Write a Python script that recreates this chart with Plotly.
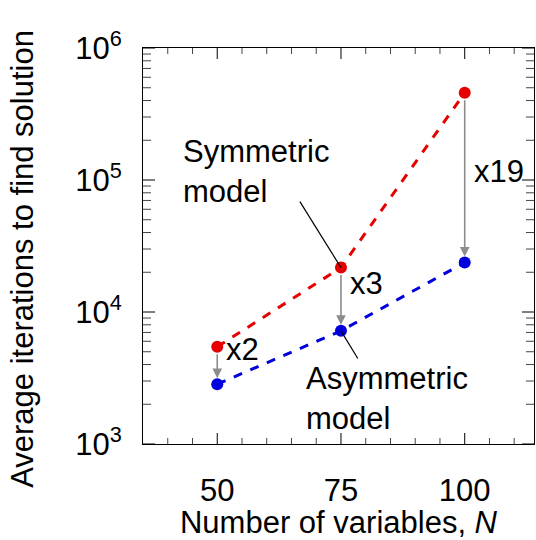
import math
import plotly.graph_objects as go

# Problem size (number of variables)
n_vars = [50, 75, 100]
# Average iterations needed to find a solution
symmetric_iters = [5450, 21700, 458000]
asymmetric_iters = [2840, 7200, 23700]
ratio_labels = ["x2", "x3", "x19"]

y_tickvals = [1e3, 1e4, 1e5, 1e6]
y_ticktext = ["10<sup>3</sup>", "10<sup>4</sup>", "10<sup>5</sup>", "10<sup>6</sup>"]
y_minor_vals = [k * 10 ** d for d in range(3, 6) for k in range(2, 10)]
x_tickvals = [50, 75, 100]
x_minor_vals = [v for v in range(40, 115, 5) if v not in x_tickvals]

FONT = "Liberation Sans, Arial, sans-serif"
FS = 31
RED = "#e60000"
BLUE = "#0000dd"
GREY = "#8c8c8c"

W, H = 536, 540
MARGIN = dict(l=143, r=2, t=48, b=96)
PLOT_W = W - MARGIN["l"] - MARGIN["r"]
PLOT_H = H - MARGIN["t"] - MARGIN["b"]

fig = go.Figure()

fig.add_trace(go.Scatter(
    x=n_vars, y=symmetric_iters, mode="lines+markers",
    line=dict(color=RED, width=3, dash="dash"),
    marker=dict(color=RED, size=12), showlegend=False))
fig.add_trace(go.Scatter(
    x=n_vars, y=asymmetric_iters, mode="lines+markers",
    line=dict(color=BLUE, width=3, dash="dash"),
    marker=dict(color=BLUE, size=12), showlegend=False))

# Leader lines from the 75-variable points to their model labels
fig.add_trace(go.Scatter(
    x=[n_vars[1], n_vars[1] - 8.3], y=[symmetric_iters[1], symmetric_iters[1] * 10 ** 0.5],
    mode="lines", line=dict(color="black", width=1.2), showlegend=False, hoverinfo="skip"))
fig.add_trace(go.Scatter(
    x=[n_vars[1], n_vars[1] + 3.4], y=[asymmetric_iters[1], asymmetric_iters[1] / 10 ** 0.21],
    mode="lines", line=dict(color="black", width=1.2), showlegend=False, hoverinfo="skip"))

annotations = []
# Grey arrows from each symmetric point down to its asymmetric counterpart
label_offsets = [-0.02, -0.12, -0.6]
for xv, ys, ya, lab, off in zip(n_vars, symmetric_iters, asymmetric_iters, ratio_labels, label_offsets):
    annotations.append(dict(
        x=xv, y=math.log10(ya), ax=xv, ay=math.log10(ys),
        xref="x", yref="y", axref="x", ayref="y",
        showarrow=True, arrowhead=2, arrowsize=1.2, arrowwidth=1.6,
        arrowcolor=GREY, standoff=6, startstandoff=6, text=""))
    annotations.append(dict(
        x=xv, y=math.log10(ys) + off, xref="x", yref="y", text=lab, showarrow=False,
        xanchor="left", xshift=7, font=dict(family=FONT, size=FS, color="black")))

annotations.append(dict(
    x=n_vars[1] - 32.3, y=math.log10(symmetric_iters[1]) + 0.73, xref="x", yref="y",
    text="Symmetric<br>model", showarrow=False, xanchor="left", yanchor="middle",
    align="left", font=dict(family=FONT, size=FS, color="black")))
annotations.append(dict(
    x=n_vars[1] - 7.5, y=math.log10(asymmetric_iters[1]) - 0.51, xref="x", yref="y",
    text="Asymmetric<br>model", showarrow=False, xanchor="left", yanchor="middle",
    align="left", font=dict(family=FONT, size=FS, color="black")))

# Y-axis title
annotations.append(dict(
    x=-0.31, y=0.467, xref="paper", yref="paper", text="Average iterations to find solution",
    textangle=-90, showarrow=False, xanchor="center", yanchor="middle",
    font=dict(family=FONT, size=FS, color="black")))

# Inward tick marks on all four sides of the frame
shapes = []
def x_tick(v, length, color):
    for base, sign in ((0, 1), (1, -1)):
        shapes.append(dict(type="line", xref="x", yref="y domain", x0=v, x1=v,
                           y0=base, y1=base + sign * length / PLOT_H,
                           line=dict(color=color, width=1)))

def y_tick(v, length, color):
    for base, sign in ((0, 1), (1, -1)):
        shapes.append(dict(type="line", xref="x domain", yref="y", y0=v, y1=v,
                           x0=base, x1=base + sign * length / PLOT_W,
                           line=dict(color=color, width=1)))

for v in x_tickvals:
    x_tick(v, 11, "black")
for v in x_minor_vals:
    x_tick(v, 6, "#444")
for v in y_tickvals:
    y_tick(v, 12, "black")
for v in y_minor_vals:
    y_tick(v, 8, "#444")

fig.update_layout(
    template="none",
    width=W, height=H,
    margin=MARGIN,
    paper_bgcolor="white", plot_bgcolor="white",
    font=dict(family=FONT, size=FS, color="black"),
    annotations=annotations,
    shapes=shapes,
    xaxis=dict(
        range=[35, 114], tickmode="array", tickvals=x_tickvals, ticks="",
        showline=True, linecolor="black", linewidth=1.2, mirror=True,
        showgrid=False, zeroline=False,
        ticklabelstandoff=19,
        tickfont=dict(size=FS),
        title=dict(text="Number of variables, <i>N</i>", standoff=9, font=dict(size=FS))),
    yaxis=dict(
        type="log", range=[3, 6], tickmode="array", tickvals=y_tickvals, ticktext=y_ticktext,
        ticks="", showline=True, linecolor="black", linewidth=1.2, mirror=True,
        showgrid=False, zeroline=False,
        ticklabelstandoff=14,
        tickfont=dict(size=FS)),
)

fig.write_html("out.html")
